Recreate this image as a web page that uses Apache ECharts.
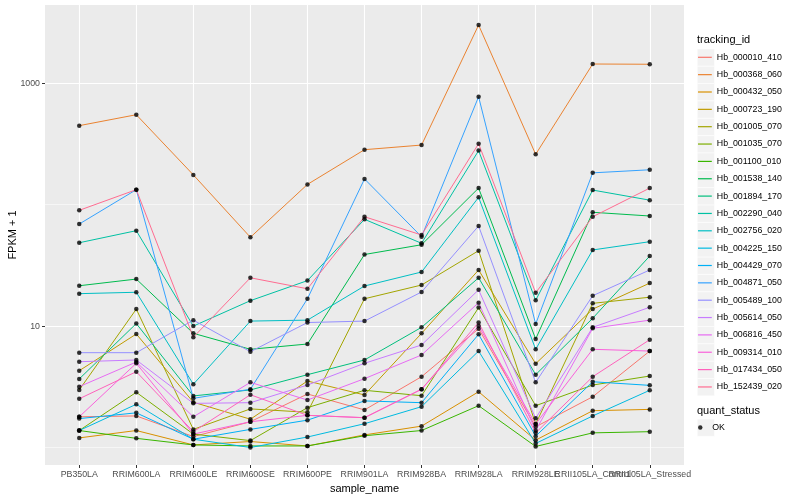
<!DOCTYPE html>
<html><head><meta charset="utf-8">
<script src="https://cdn.jsdelivr.net/npm/echarts@6/dist/echarts.min.js"></script>
<style>html,body{margin:0;padding:0;background:#fff}#c{width:800px;height:500px}</style>
</head><body><div id="c"></div>
<script>
// x categories
const samples = ['PB350LA','RRIM600LA','RRIM600LE','RRIM600SE','RRIM600PE','RRIM901LA','RRIM928BA','RRIM928LA','RRIM928LE','RRII105LA_Control','RRII105LA_Stressed'];
// y tick labels (major) and minor grid values
const yMajorTicks = [10, 1000];
const yMinorTicks = [1, 100];
const trackingIds = ['Hb_000010_410','Hb_000368_060','Hb_000432_050','Hb_000723_190','Hb_001005_070','Hb_001035_070','Hb_001100_010','Hb_001538_140','Hb_001894_170','Hb_002290_040','Hb_002756_020','Hb_004225_150','Hb_004429_070','Hb_004871_050','Hb_005489_100','Hb_005614_050','Hb_006816_450','Hb_009314_010','Hb_017434_050','Hb_152439_020'];
const colors = ['#F8766D','#EA8331','#D89000','#C09B00','#A3A500','#7CAE00','#39B600','#00BB4E','#00BF7D','#00C1A3','#00BFC4','#00BAE0','#00B0F6','#35A2FF','#9590FF','#C77CFF','#E76BF3','#FA62DB','#FF62BC','#FF6C91'];

// FPKM + 1 per sample, one array per tracking_id
const hb_000010_410 = [1.79, 1.82, 1.23, 1.63, 2.76, 2.04, 3.83, 9.52, 1.48, 2.62, 6.23];
const hb_000368_060 = [448, 551, 176, 53.9, 147, 284, 310, 3020, 260, 1442, 1435];
const hb_000432_050 = [1.20, 1.38, 1.05, 1.12, 1.03, 1.27, 1.50, 2.88, 1.15, 2.01, 2.06];
const hb_000723_190 = [4.29, 8.61, 2.36, 1.71, 3.53, 2.71, 8.72, 29.0, 4.90, 13.8, 22.6];
const hb_001005_070 = [2.98, 13.8, 1.41, 2.08, 1.95, 16.8, 21.8, 41.8, 1.56, 15.4, 17.3];
const hb_001035_070 = [1.38, 2.85, 1.29, 1.14, 2.13, 2.96, 2.67, 14.2, 2.21, 3.27, 3.88];
const hb_001100_010 = [1.38, 1.19, 1.05, 1.03, 1.03, 1.25, 1.38, 2.21, 1.02, 1.32, 1.35];
const hb_001538_140 = [21.5, 24.4, 8.72, 6.44, 7.12, 38.9, 46.8, 137, 7.83, 86.6, 80.7];
const hb_001894_170 = [3.67, 10.5, 2.66, 2.98, 3.98, 5.26, 9.77, 25.0, 3.98, 11.6, 37.8];
const hb_002290_040 = [48.6, 61.1, 10.0, 16.2, 23.7, 75.8, 48.1, 279, 16.3, 132, 109];
const hb_002756_020 = [18.5, 19.0, 3.32, 11.0, 11.2, 21.4, 27.9, 115, 6.44, 42.4, 49.6];
const hb_004225_150 = [1.38, 2.27, 1.17, 1.00, 1.22, 1.57, 2.17, 6.23, 1.08, 1.82, 2.96];
const hb_004429_070 = [1.73, 1.93, 1.17, 1.41, 1.68, 2.42, 2.34, 8.56, 1.24, 3.48, 3.25];
const hb_004871_050 = [69.3, 133, 2.54, 3.02, 16.8, 163, 54.5, 775, 10.4, 183, 194];
const hb_005489_100 = [6.04, 6.04, 11.2, 6.15, 10.7, 11.0, 19.1, 66.8, 3.44, 17.8, 29.0];
const hb_005614_050 = [5.09, 5.26, 2.31, 2.34, 3.27, 4.94, 6.99, 19.9, 1.74, 9.77, 14.3];
const hb_006816_450 = [3.17, 5.06, 1.79, 3.44, 2.46, 3.69, 5.78, 15.6, 1.38, 9.59, 11.2];
const hb_009314_010 = [1.79, 4.94, 1.29, 1.63, 1.84, 1.76, 3.02, 10.0, 1.56, 6.44, 6.23];
const hb_017434_050 = [2.52, 4.21, 1.35, 2.72, 1.84, 1.76, 3.02, 10.7, 1.32, 3.83, 7.73];
const hb_152439_020 = [89.9, 133, 8.09, 25.0, 20.3, 79.6, 56.3, 318, 18.8, 79.6, 137];

const seriesValues = [hb_000010_410, hb_000368_060, hb_000432_050, hb_000723_190, hb_001005_070, hb_001035_070, hb_001100_010, hb_001538_140, hb_001894_170, hb_002290_040, hb_002756_020, hb_004225_150, hb_004429_070, hb_004871_050, hb_005489_100, hb_005614_050, hb_006816_450, hb_009314_010, hb_017434_050, hb_152439_020];

const FONT = "'Liberation Sans', Arial, Helvetica, sans-serif";
const chart = echarts.init(document.getElementById('c'), null, {renderer: 'canvas'});

const GL = 45, GT = 5, GR = 684, GB = 465;
const idx = samples.map((s, i) => i);
const idxEven = idx.filter(i => i % 2 === 0);
const idxOdd = idx.filter(i => i % 2 === 1);

const lineSeries = trackingIds.map((name, i) => ({
  name: name,
  type: 'line',
  color: colors[i],
  data: seriesValues[i].map((v, j) => [j, v]),
  showSymbol: false,
  symbol: 'none',
  lineStyle: {color: colors[i], width: 1},
  z: 2,
  emphasis: {disabled: true},
  animation: false
}));
const points = [];
seriesValues.forEach(arr => arr.forEach((v, j) => points.push([j, v])));
const pointSeries = {
  name: 'OK', type: 'scatter', data: points, symbol: 'circle', symbolSize: 4.5,
  itemStyle: {color: '#000'}, z: 3, emphasis: {disabled: true}, animation: false
};
// white panel grid lines (ggplot style): major at ticks, minor between
const gridLineData = []
  .concat(idx.map(v => ({xAxis: v, lineStyle: {color: '#fff', width: 1.1, type: 'solid'}})))
  .concat(yMajorTicks.map(v => ({yAxis: v, lineStyle: {color: '#fff', width: 1.1, type: 'solid'}})))
  .concat(yMinorTicks.map(v => ({yAxis: v, lineStyle: {color: '#fff', width: 0.55, type: 'solid'}})));
const gridSeries = {
  name: '__grid', type: 'line', data: [], z: 1, silent: true, animation: false,
  markLine: {z: 1, silent: true, animation: false, symbol: ['none', 'none'], label: {show: false},
    emphasis: {disabled: true}, data: gridLineData}
};

const KEY = 17.35, KEY0 = 57.3;
const graphics = [{type: 'rect', left: GL, top: GT, shape: {width: GR - GL, height: GB - GT}, style: {fill: '#EBEBEB'}, z: -100, silent: true}];
trackingIds.forEach((n, i) => {
  graphics.push({type: 'rect', left: 697, top: KEY0 + i * KEY - 8.6, shape: {width: 17.2, height: 17.2}, style: {fill: '#F2F2F2', stroke: '#fff', lineWidth: 0.5}, z: 0, silent: true});
});
graphics.push({type: 'rect', left: 697, top: 427.5 - 8.6, shape: {width: 17.2, height: 17.2}, style: {fill: '#F2F2F2', stroke: '#fff', lineWidth: 0.5}, z: 0, silent: true});
graphics.push({type: 'text', left: 697, top: 34, style: {text: 'tracking_id', font: '11px ' + FONT, fill: '#000'}, z: 5});
graphics.push({type: 'text', left: 697, top: 405, style: {text: 'quant_status', font: '11px ' + FONT, fill: '#000'}, z: 5});
graphics.push({type: 'text', x: 13, y: (GT + GB) / 2, rotation: Math.PI / 2,
  style: {text: 'FPKM + 1', font: '11px ' + FONT, fill: '#000', align: 'center', verticalAlign: 'middle'}, z: 5});

const yMin = 0.7176, yMax = 4416;
const xLabelStyle = {margin: 5, fontFamily: FONT, fontSize: 8.8, color: '#4D4D4D', formatter: v => samples[Math.round(v)]};

chart.setOption({
  animation: false,
  backgroundColor: '#fff',
  grid: {left: GL, right: 800 - GR, top: GT, bottom: 500 - GB, show: false, containLabel: false, outerBoundsMode: 'none'},
  xAxis: [{
    type: 'value', min: -0.6, max: 10.6,
    name: 'sample_name', nameLocation: 'middle', nameGap: 17,
    nameTextStyle: {fontFamily: FONT, fontSize: 11, color: '#000'},
    axisLine: {show: false, onZero: false},
    axisTick: {show: true, length: 3, lineStyle: {color: '#333333', width: 1}, customValues: idx},
    axisLabel: Object.assign({customValues: idxEven}, xLabelStyle),
    splitLine: {show: false}
  }, {
    type: 'value', min: -0.6, max: 10.6, position: 'bottom',
    axisLine: {show: false, onZero: false},
    axisTick: {show: false},
    axisLabel: Object.assign({customValues: idxOdd}, xLabelStyle),
    splitLine: {show: false}
  }],
  yAxis: {
    type: 'log', min: yMin, max: yMax,
    axisLine: {show: false, onZero: false},
    axisTick: {show: true, length: 3, lineStyle: {color: '#333333', width: 1}, customValues: yMajorTicks},
    axisLabel: {customValues: yMajorTicks, margin: 5, fontFamily: FONT, fontSize: 8.8, color: '#4D4D4D', formatter: v => String(Math.round(v))},
    splitLine: {show: false}
  },
  legend: [{
    orient: 'vertical', left: 698, top: KEY0 - KEY / 2, padding: 0, itemGap: 0,
    itemWidth: 13.8, itemHeight: 1.2, icon: 'rect', selectedMode: false,
    data: trackingIds.map((n, i) => ({name: n, itemStyle: {color: colors[i]}})),
    textStyle: {fontFamily: FONT, fontSize: 8.8, color: '#000', lineHeight: KEY}
  }, {
    orient: 'vertical', left: 698, top: 427.5 - KEY / 2, padding: 0, itemGap: 0,
    itemWidth: 13.8, itemHeight: 4.5, icon: 'circle', selectedMode: false,
    data: [{name: 'OK', itemStyle: {color: '#000'}}],
    textStyle: {fontFamily: FONT, fontSize: 8.8, color: '#000', lineHeight: KEY}
  }],
  graphic: graphics,
  series: [gridSeries].concat(lineSeries, [pointSeries])
});
</script>
</body></html>
